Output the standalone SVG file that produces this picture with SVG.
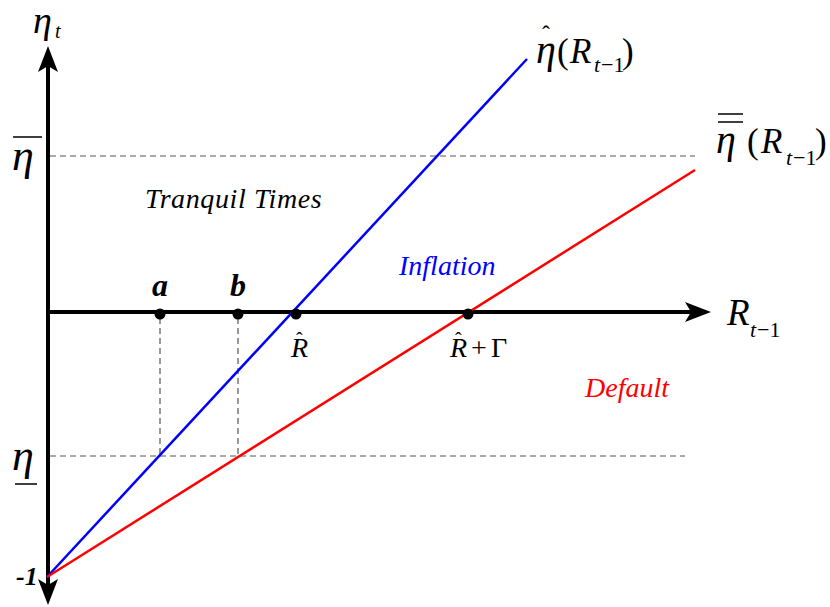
<svg xmlns="http://www.w3.org/2000/svg" width="830" height="607" viewBox="0 0 830 607">
<defs>
<marker id="arr" markerUnits="userSpaceOnUse" markerWidth="30" markerHeight="24" viewBox="0 -12 30 24" refX="6" refY="0" orient="auto-start-reverse">
<path d="M0,-10 L26,0 L0,10 L6,0 Z" fill="#000"/>
</marker>
</defs>
<style>
.axis{stroke:#000;stroke-width:4;fill:none}
.dash{stroke:#555;stroke-width:1;stroke-dasharray:6,4;fill:none}
.vdash{stroke:#333;stroke-width:1;stroke-dasharray:6,4;fill:none}
.m{font-family:"Liberation Serif","Times New Roman",serif;font-style:italic;fill:#000}
.u{font-family:"Liberation Serif","Times New Roman",serif;fill:#000}
.lbl{font-family:"Liberation Serif","Times New Roman",serif;font-style:italic;font-size:28px}
.dot{fill:#000}
</style>
<rect width="830" height="607" fill="#fff"/>
<g id="guides">
<line class="dash" x1="50" y1="156" x2="695" y2="156"/>
<line class="dash" x1="50" y1="456" x2="685" y2="456"/>
<line class="vdash" x1="160" y1="318" x2="160" y2="456"/>
<line class="vdash" x1="238" y1="318" x2="238" y2="456"/>
</g>
<g id="connectors">
<line class="axis" x1="48" y1="585" x2="48" y2="66" marker-start="url(#arr)" marker-end="url(#arr)"/>
<line class="axis" x1="48" y1="312" x2="691" y2="312" marker-end="url(#arr)"/>
<line x1="47" y1="577" x2="527" y2="59" stroke="#0000ff" stroke-width="2.5"/>
<line x1="47" y1="577" x2="695" y2="170" stroke="#ff0000" stroke-width="2.5"/>
</g>
<g id="axis-labels">
<text class="m" x="33" y="33" font-size="38">η</text>
<text class="m" x="55" y="38" font-size="20">t</text>
<text class="m" x="727" y="325" font-size="37">R</text>
<text class="m" x="750" y="337" font-size="22">t</text>
<text class="u" x="757" y="337" font-size="22">−1</text>
<text class="m" x="12" y="170" font-size="44">η</text>
<line x1="13" y1="137" x2="42" y2="137" stroke="#000" stroke-width="1.5"/>
<text class="m" x="12" y="470" font-size="44">η</text>
<line x1="15" y1="484" x2="37" y2="484" stroke="#000" stroke-width="1.5"/>
<text class="m" x="16" y="585" font-size="26" font-weight="bold">-1</text>
</g>
<g id="curve-blue-label">
<text class="m" x="536" y="63" font-size="40">η</text>
<text class="u" x="542" y="42" font-size="24">ˆ</text>
<text class="u" x="557" y="63" font-size="35">(</text>
<text class="m" x="570" y="63" font-size="35">R</text>
<text class="m" x="594" y="72" font-size="22">t</text>
<text class="u" x="601" y="72" font-size="22">−1</text>
<text class="u" x="622" y="63" font-size="35">)</text>
</g>
<g id="curve-red-label">
<text class="m" x="716" y="153" font-size="40">η</text>
<line x1="718" y1="114" x2="743" y2="114" stroke="#000" stroke-width="1.5"/>
<line x1="718" y1="122" x2="743" y2="122" stroke="#000" stroke-width="1.5"/>
<text class="u" x="747" y="153" font-size="35">(</text>
<text class="m" x="761" y="153" font-size="35">R</text>
<text class="m" x="786" y="165" font-size="22">t</text>
<text class="u" x="793" y="165" font-size="22">−1</text>
<text class="u" x="815" y="153" font-size="35">)</text>
</g>
<g id="point-a">
<circle class="dot" cx="160" cy="314" r="5.5"/>
<text class="m" x="160" y="296" font-size="32" font-weight="bold" text-anchor="middle">a</text>
</g>
<g id="point-b">
<circle class="dot" cx="238" cy="314" r="5.5"/>
<text class="m" x="238" y="296" font-size="32" font-weight="bold" text-anchor="middle">b</text>
</g>
<g id="point-Rhat">
<circle class="dot" cx="296" cy="314" r="5.5"/>
<text class="m" x="291" y="357" font-size="28">R</text>
<text class="u" x="296" y="347" font-size="20">ˆ</text>
</g>
<g id="point-RhatGamma">
<circle class="dot" cx="468" cy="314" r="5.5"/>
<text class="m" x="450" y="357" font-size="28">R</text>
<text class="u" x="455" y="347" font-size="20">ˆ</text>
<text class="u" x="471" y="357" font-size="28">+</text>
<text class="u" x="491" y="357" font-size="28">Γ</text>
</g>
<g id="regions">
<text class="lbl" x="145" y="208" font-size="29" letter-spacing="0.6" fill="#000">Tranquil Times</text>
<text class="lbl" x="399" y="275" fill="#0000ff">Inflation</text>
<text class="lbl" x="585" y="397" fill="#ff0000">Default</text>
</g>
</svg>
